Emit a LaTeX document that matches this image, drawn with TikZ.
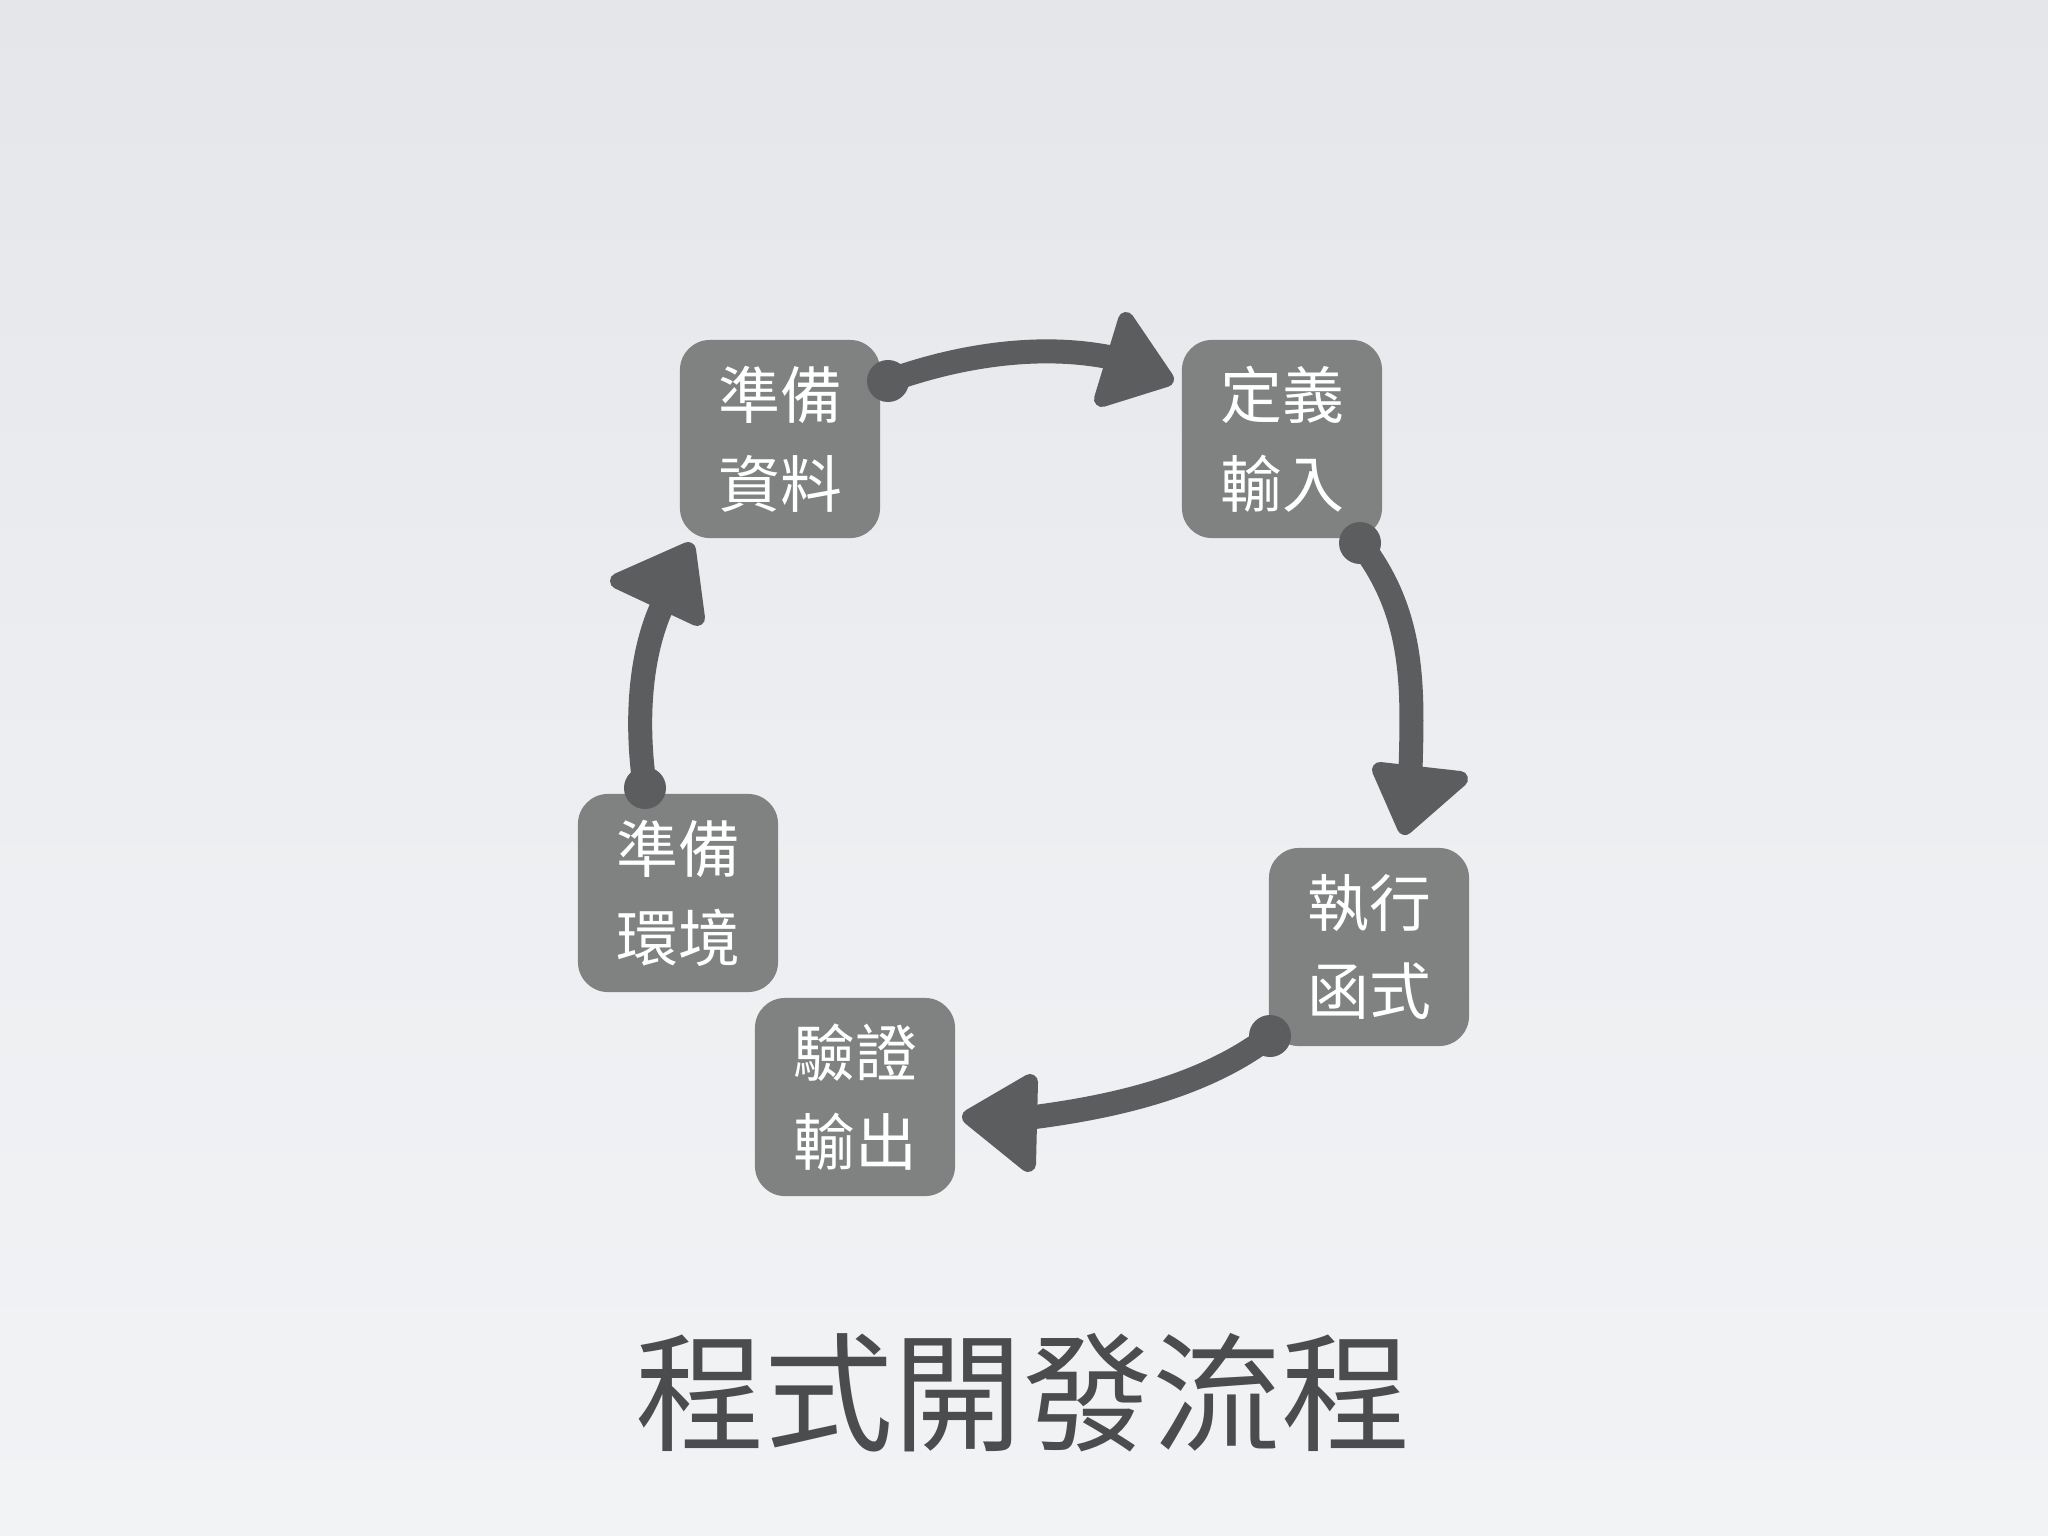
\documentclass[tikz,border=0pt]{standalone}
\usepackage{fontspec}
\newfontfamily\cjk{Noto Sans CJK TC}
\definecolor{bgtop}{HTML}{E4E6EA}
\definecolor{bgmid}{HTML}{EDEEF1}
\definecolor{bgbot}{HTML}{F2F3F5}
\definecolor{boxc}{HTML}{7F8281}
\definecolor{arrc}{HTML}{5B5D5E}
\definecolor{titc}{HTML}{4B4C4E}
\tikzset{
  stepbox/.style={fill=boxc, rounded corners=0.3cm, minimum width=2cm, minimum height=1.98cm, inner sep=0pt,
    text=white, align=center, font=\cjk\fontsize{17.6}{25.3}\selectfont},
  shaft/.style={draw=arrc, line width=0.24cm, line cap=round},
  blob/.style={fill=arrc},
  head/.style={fill=arrc, draw=arrc, line width=0.16cm, line join=round},
  titletext/.style={text=titc, font=\cjk\fontsize{36.7}{40}\selectfont, inner sep=0pt}
}
\begin{document}
\begin{tikzpicture}[x=0.01cm,y=-0.01cm]
\useasboundingbox (0,0) rectangle (2048,1536);
\shade[top color=bgtop,bottom color=bgbot,middle color=bgmid] (0,0) rectangle (2048,1536);

\node[stepbox] (A) at (780,439) {準備\\資料};
\node[stepbox] (B) at (1282,439) {定義\\輸入};
\node[stepbox] (C) at (1369,947) {執行\\函式};
\node[stepbox] (D) at (855,1097) {驗證\\輸出};
\node[stepbox] (E) at (678,893) {準備\\環境};

\node[titletext] (T) at (1023,1393) {程式開發流程};

% arrow A -> B
\coordinate (a1) at (888,381);
\coordinate (a2) at (1130,362);
\draw[shaft] (a1) .. controls (960,355) and (1050,340) .. (a2);
\fill[blob] (a1) circle (0.21cm);
\filldraw[head] (1126,320) -- (1166,379) -- (1102,399) -- cycle;

% arrow B -> C
\coordinate (b1) at (1360,543);
\coordinate (b2) at (1410,790);
\draw[shaft] (b1) .. controls (1420,620) and (1412,700) .. (b2);
\fill[blob] (b1) circle (0.21cm);
\filldraw[head] (1380,770) -- (1460,779) -- (1405,827) -- cycle;

% arrow C -> D
\coordinate (c1) at (1270,1036);
\coordinate (c2) at (1010,1120);
\draw[shaft] (c1) .. controls (1200,1090) and (1100,1110) .. (c2);
\fill[blob] (c1) circle (0.21cm);
\filldraw[head] (970,1117) -- (1030,1082) -- (1028,1164) -- cycle;

% arrow E -> A
\coordinate (e1) at (645,788);
\coordinate (e2) at (665,600);
\draw[shaft] (e1) .. controls (635,720) and (640,650) .. (e2);
\fill[blob] (e1) circle (0.21cm);
\filldraw[head] (618,581) -- (688,550) -- (697,618) -- cycle;
\end{tikzpicture}
\end{document}
